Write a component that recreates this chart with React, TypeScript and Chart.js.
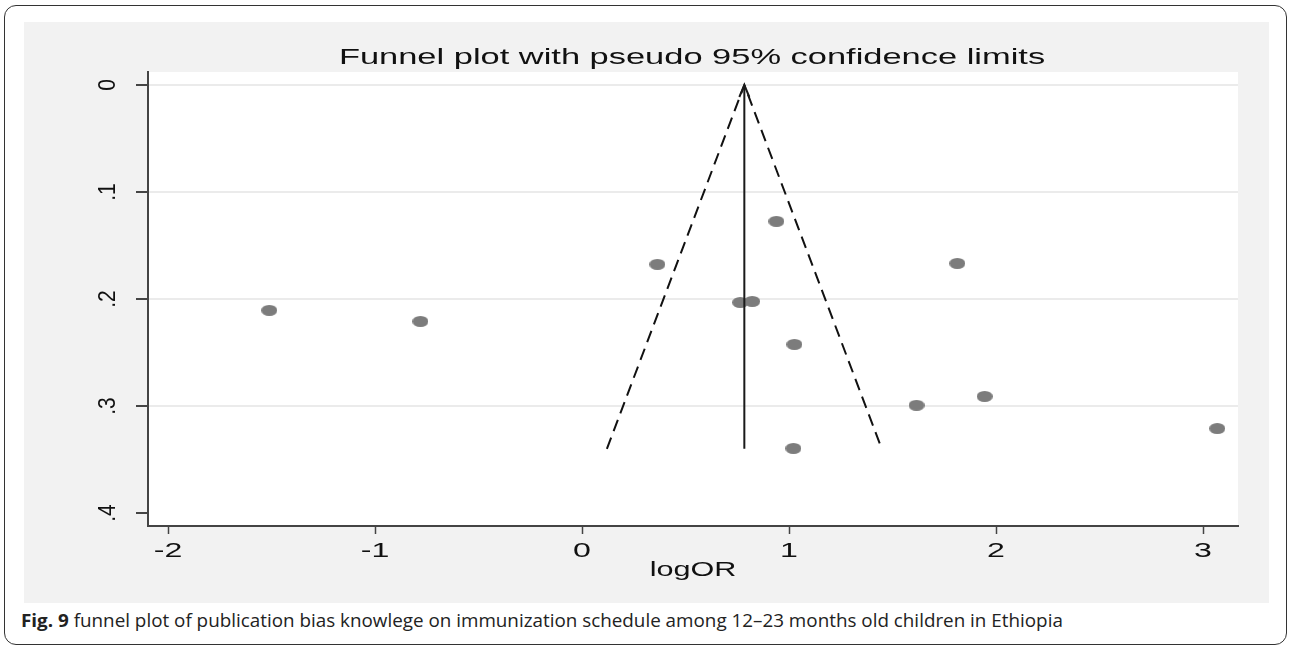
import React, { useEffect, useLayoutEffect, useRef } from "react";
import { Chart, registerables } from "chart.js";

Chart.register(...registerables);

// ---- Data ----
const studyLogOR = [-1.511, -0.781, 0.364, 0.939, 0.764, 0.822, 1.026, 1.813, 1.616, 1.945, 3.069, 1.021];
const studySE = [0.2106, 0.2209, 0.1676, 0.1274, 0.2032, 0.2022, 0.2424, 0.1667, 0.2993, 0.291, 0.321, 0.3396];
const pooledX = [0.784, 0.784];
const pooledSE = [0, 0.34];
const funnelX = [0.12, 0.784, 1.448];
const funnelSE = [0.34, 0, 0.34];
const xTicks = [-2, -1, 0, 1, 2, 3];
const xTickLabels = ["-2", "-1", "0", "1", "2", "3"];
const yTicks = [0, 0.1, 0.2, 0.3, 0.4];
const yTickLabels = ["0", ".1", ".2", ".3", ".4"];
const titleText = "Funnel plot with pseudo 95% confidence limits";
const xTitleText = "logOR";
const captionBold = "Fig. 9";
const captionText =
  " funnel plot of publication bias knowlege on immunization schedule among 12\u201323 months old children in Ethiopia";

const CANVAS_LEFT = 24;
const CANVAS_TOP = 22;
const CANVAS_W = 1245;
const CANVAS_H = 581;
const STRETCH = 1.53;
const FONT = '"Liberation Sans", Arial, sans-serif';

function drawStretched(ctx: CanvasRenderingContext2D, text: string, cx: number, baseline: number, font: string, sx: number) {
  ctx.save();
  ctx.translate(cx, baseline);
  ctx.scale(sx, 1);
  ctx.font = font;
  ctx.textAlign = "center";
  ctx.textBaseline = "alphabetic";
  ctx.fillText(text, 0, 0);
  ctx.restore();
}

const decorPlugin = {
  id: "decor",
  beforeDraw(chart: any) {
    const { ctx, chartArea: a, width, height } = chart;
    ctx.save();
    ctx.fillStyle = "#f2f2f2";
    ctx.fillRect(0, 0, width, height);
    ctx.fillStyle = "#ffffff";
    ctx.fillRect(a.left, a.top, a.right - a.left, a.bottom - a.top);
    ctx.restore();
  },
  afterDraw(chart: any) {
    const { ctx, chartArea: a } = chart;
    const xs = chart.scales.x;
    const ys = chart.scales.y;
    const cx = (a.left + a.right) / 2;
    ctx.save();
    ctx.fillStyle = "#111111";
    drawStretched(ctx, titleText, cx - 1, 64 - CANVAS_TOP, `22px ${FONT}`, 1.565);
    xs.ticks.forEach((t: any, i: number) => {
      drawStretched(ctx, xTickLabels[i], xs.getPixelForValue(t.value), 556.5 - CANVAS_TOP, `21px ${FONT}`, STRETCH);
    });
    drawStretched(ctx, xTitleText, cx, 575.5 - CANVAS_TOP, `20px ${FONT}`, STRETCH);
    ys.ticks.forEach((t: any, i: number) => {
      ctx.save();
      ctx.translate(115 - CANVAS_LEFT, ys.getPixelForValue(t.value));
      ctx.scale(1.13, 1);
      ctx.rotate(-Math.PI / 2);
      ctx.font = `21px ${FONT}`;
      ctx.textAlign = "center";
      ctx.textBaseline = "alphabetic";
      ctx.fillText(yTickLabels[i], 0, 0);
      ctx.restore();
    });
    // arrowhead on top of the pooled-estimate line
    const px = xs.getPixelForValue(pooledX[0]);
    const py = ys.getPixelForValue(pooledSE[0]);
    ctx.strokeStyle = "#1a1a1a";
    ctx.lineWidth = 2;
    ctx.beginPath();
    ctx.moveTo(px - 5, py + 12);
    ctx.lineTo(px, py);
    ctx.lineTo(px + 5, py + 12);
    ctx.stroke();
    ctx.restore();
  },
};

function makeEllipse(): HTMLCanvasElement {
  const c = document.createElement("canvas");
  c.width = 16;
  c.height = 11;
  const g = c.getContext("2d")!;
  g.fillStyle = "#7c7c7c";
  g.beginPath();
  g.ellipse(8, 5.5, 8, 5.5, 0, 0, Math.PI * 2);
  g.fill();
  return c;
}

export default function App() {
  const canvasRef = useRef<HTMLCanvasElement | null>(null);
  const capRef = useRef<HTMLDivElement | null>(null);

  useEffect(() => {
    if (!canvasRef.current) return;
    const ellipse = makeEllipse();
    const chart = new Chart(canvasRef.current, {
      type: "scatter",
      data: {
        datasets: [
          {
            type: "line",
            data: funnelX.map((v, i) => ({ x: v, y: funnelSE[i] })),
            borderColor: "#111111",
            borderWidth: 2,
            borderDash: [12, 7],
            pointRadius: 0,
            fill: false,
            tension: 0,
          } as any,
          {
            type: "line",
            data: pooledX.map((v, i) => ({ x: v, y: pooledSE[i] })),
            borderColor: "#1a1a1a",
            borderWidth: 2,
            pointRadius: 0,
            fill: false,
            tension: 0,
          } as any,
          {
            type: "scatter",
            data: studyLogOR.map((v, i) => ({ x: v, y: studySE[i] })),
            pointStyle: ellipse as any,
            pointRadius: 8,
            backgroundColor: "#7c7c7c",
            borderWidth: 0,
          } as any,
        ],
      },
      options: {
        animation: false,
        responsive: false,
        devicePixelRatio: 1,
        layout: { padding: { left: 0, top: 50, right: 31, bottom: 0 } },
        plugins: { legend: { display: false }, tooltip: { enabled: false }, title: { display: false } },
        scales: {
          x: {
            type: "linear",
            min: -2.097,
            max: 3.169,
            afterBuildTicks: (s: any) => {
              s.ticks = xTicks.map((v) => ({ value: v }));
            },
            afterFit: (s: any) => {
              s.height = 77;
            },
            ticks: { display: false },
            grid: {
              drawOnChartArea: false,
              drawTicks: true,
              tickLength: 8,
              tickColor: "#444444",
              tickWidth: 1.5,
            },
            border: { display: true, color: "#444444", width: 2 },
          },
          y: {
            type: "linear",
            reverse: true,
            min: -0.01215,
            max: 0.4121,
            afterBuildTicks: (s: any) => {
              s.ticks = yTicks.map((v) => ({ value: v }));
            },
            afterFit: (s: any) => {
              s.width = 124;
            },
            ticks: { display: false },
            grid: {
              color: (c: any) => (c.tick && c.tick.value > 0.35 ? "rgba(0,0,0,0)" : "#ebebeb"),
              lineWidth: 2,
              drawTicks: true,
              tickLength: 12,
              tickColor: "#444444",
              tickWidth: 2,
            },
            border: { display: true, color: "#444444", width: 2 },
          },
        },
      } as any,
      plugins: [decorPlugin as any],
    });
    return () => chart.destroy();
  }, []);

  useLayoutEffect(() => {
    const el = capRef.current;
    if (!el) return;
    el.style.transform = "none";
    const w = el.scrollWidth;
    const target = 1042;
    if (w > 0) el.style.transform = `scaleX(${target / w})`;
  }, []);

  return (
    <div style={{ position: "absolute", left: 0, top: 0, width: 1290, height: 650, background: "#ffffff", overflow: "hidden" }}>
      <div
        style={{
          position: "absolute",
          left: 4,
          top: 5,
          width: 1283,
          height: 640,
          boxSizing: "border-box",
          border: "1.5px solid #333333",
          borderRadius: 12,
        }}
      />
      <div style={{ position: "absolute", left: CANVAS_LEFT, top: CANVAS_TOP, width: CANVAS_W, height: CANVAS_H }}>
        <canvas ref={canvasRef} width={CANVAS_W} height={CANVAS_H} style={{ display: "block", width: CANVAS_W, height: CANVAS_H }} />
      </div>
      <div
        ref={capRef}
        style={{
          position: "absolute",
          left: 21,
          top: 611,
          whiteSpace: "nowrap",
          fontFamily: '"Open Sans", "Noto Sans", sans-serif',
          fontSize: 18,
          lineHeight: "18px",
          color: "#222222",
          transformOrigin: "0 0",
        }}
      >
        <b>{captionBold}</b>
        {captionText}
      </div>
    </div>
  );
}
